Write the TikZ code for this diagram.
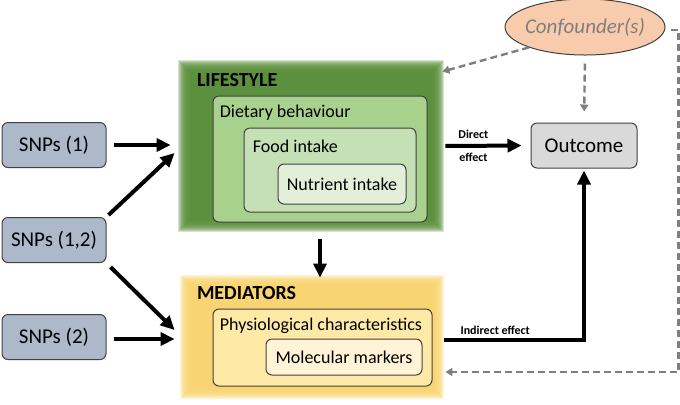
\documentclass[tikz,border=0pt]{standalone}
\usepackage{fontspec}
\setmainfont{Carlito}
\usepackage{tikz}
\usetikzlibrary{arrows.meta,calc,shapes.geometric}

\definecolor{snpfill}{RGB}{173,185,202}
\definecolor{lifegreen}{RGB}{90,142,58}
\definecolor{dietgreen}{RGB}{169,209,142}
\definecolor{foodgreen}{RGB}{197,224,180}
\definecolor{nutrgreen}{RGB}{226,240,217}
\definecolor{medyellow}{RGB}{248,212,110}
\definecolor{physyellow}{RGB}{255,233,166}
\definecolor{molyellow}{RGB}{255,244,214}
\definecolor{outgray}{RGB}{217,217,217}
\definecolor{conffill}{RGB}{248,203,173}
\definecolor{dashgray}{RGB}{127,127,127}
\definecolor{edgegray}{RGB}{64,64,64}

\begin{document}
\begin{tikzpicture}[x=0.5pt,y=-0.5pt]
\tikzset{box/.style = {shape=rectangle,rounded corners=3pt,draw=edgegray,line width=0.5pt,inner sep=0pt}}
\tikzset{snp/.style = {box,fill=snpfill,minimum width=52pt,minimum height=22.5pt,font=\fontsize{10.5}{12}\selectfont}}
\tikzset{panel/.style = {shape=rectangle,inner sep=0pt}}
\tikzset{title/.style = {anchor=west,inner sep=0pt,font=\fontsize{10}{12}\selectfont\bfseries}}
\tikzset{inlabel/.style = {anchor=west,inner sep=0pt,font=\fontsize{9}{11}\selectfont}}
\tikzset{edge/.style = {-{Triangle[length=7pt,width=6.5pt]},line width=2pt}}
\tikzset{conf/.style = {-{Triangle[length=3.5pt,width=4pt]},line width=1.2pt,dashgray,dash pattern=on 3.5pt off 2pt}}
\tikzset{efflabel/.style = {inner sep=2.5pt,font=\fontsize{6}{7}\selectfont\bfseries}}

\useasboundingbox (0,0) rectangle (680,404);

\node[snp] (snp1)  at (54,145) {SNPs (1)};
\node[snp] (snp12) at (54,240) {SNPs (1,2)};
\node[snp] (snp2)  at (54,337) {SNPs (2)};

\node[panel,minimum width=127pt,minimum height=80pt] (life) at (311,146) {};
% soft edge
\foreach \d in {-6,...,6}
  \fill[lifegreen,opacity=0.25] ($(life.north west)+(-\d,-\d)$) rectangle ($(life.south east)+(\d,\d)$);
\node[box,fill=dietgreen,minimum width=107pt,minimum height=63pt] (diet) at (320,159) {};
\node[box,fill=foodgreen,minimum width=86pt,minimum height=42pt] (food) at (330,170) {};
\node[box,fill=nutrgreen,minimum width=64pt,minimum height=20pt,font=\fontsize{9}{11}\selectfont] (nutr) at (342,184) {Nutrient intake};
\node[title] (lifelab) at ($(life.north west)+(13,14)$) {LIFESTYLE};
\node[inlabel] (dietlab) at ($(diet.north west)+(7,17)$) {Dietary behaviour};
\node[inlabel] (foodlab) at ($(food.north west)+(9,19)$) {Food intake};

\node[panel,minimum width=126pt,minimum height=56pt] (med) at (312,337) {};
% soft edge
\foreach \d in {-6,...,6}
  \fill[medyellow,opacity=0.25] ($(med.north west)+(-\d,-\d)$) rectangle ($(med.south east)+(\d,\d)$);
\node[box,fill=physyellow,minimum width=109.5pt,minimum height=38.5pt] (phys) at (322.5,347.5) {};
\node[box,fill=molyellow,minimum width=78pt,minimum height=18pt,font=\fontsize{9}{11}\selectfont] (mol) at (344,357) {Molecular markers};
\node[title] (medlab) at ($(med.north west)+(11,12)$) {MEDIATORS};
\node[inlabel] (physlab) at ($(phys.north west)+(7,17)$) {Physiological characteristics};

\node[box,fill=outgray,minimum width=53pt,minimum height=22.5pt,font=\fontsize{10.5}{12}\selectfont] (out) at (584,145.5) {Outcome};
\node[shape=ellipse,draw=edgegray,line width=0.5pt,fill=conffill,minimum width=80pt,minimum height=28pt,inner sep=0pt,inner xsep=-5pt,
      text=dashgray,font=\fontsize{10.5}{12}\selectfont\itshape] (conf) at (585,27) {Confounder(s)};

%edges
\draw[edge,shorten <=3.5pt,shorten >=6.5pt] (snp1.east) -- (life.west |- snp1.east);
\draw[edge] ($(snp12.north east)+(2,-2)$) -- ($(life.west)+(-9,7)$);
\draw[edge] ($(snp12.south east)+(4,4)$) -- ($(med.west)+(-11,-7)$);
\draw[edge,shorten <=3.5pt,shorten >=5.5pt] ($(snp2.east)+(0,2)$) -- ($(med.west |- snp2.east)+(0,2)$);
\draw[edge] ($(life.south)+(9,13)$) -- ($(med.north)+(8,-3)$);
\draw[edge,shorten <=3.5pt,shorten >=4.5pt] (life.east) -- (out.west)
   node[efflabel,pos=0.38,above] {Direct}
   node[efflabel,pos=0.38,below] {effect};
\draw[edge,shorten >=1pt] ($(med.east)+(6,3)$) -| (out.south)
   node[efflabel,pos=0.04,above right,inner sep=1.5pt] {Indirect effect};

%confounding paths
\draw[conf] (conf.200) -- ($(life.north east)+(4,6)$);
\draw[conf,shorten <=4pt,shorten >=5.5pt] (conf.south) -- (out.north);
\draw[conf] ($(conf.east)+(5,3)$) -- ++(8,0) |- ($(med.east)+(7,35)$);
\end{tikzpicture}
\end{document}
